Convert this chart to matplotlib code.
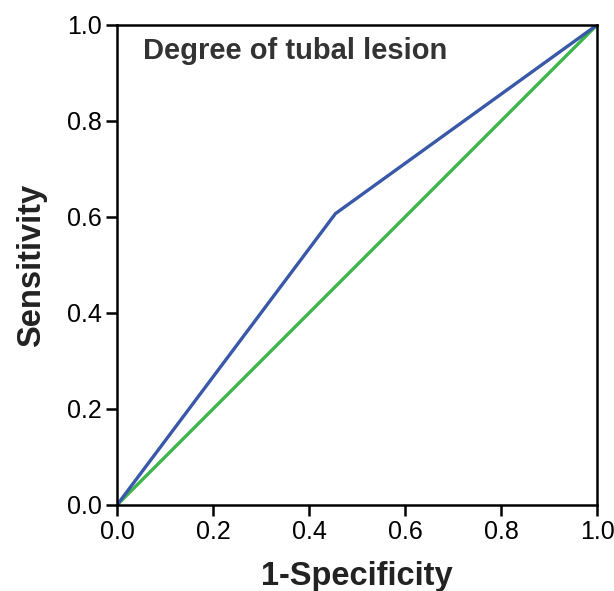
import matplotlib
matplotlib.use("Agg")
import matplotlib.pyplot as plt

fpr = [0.0, 0.455, 1.0]
tpr = [0.0, 0.607, 1.0]
ref_x = [0.0, 1.0]
ref_y = [0.0, 1.0]
ticks = [0.0, 0.2, 0.4, 0.6, 0.8, 1.0]
tick_labels = ["0.0", "0.2", "0.4", "0.6", "0.8", "1.0"]

plt.rcParams['font.family'] = ['Liberation Sans', 'DejaVu Sans']

fig = plt.figure(figsize=(6.14, 5.91), dpi=100)
ax = fig.add_axes([117/614, 86/591, 480/614, 480/591])
ax.plot(ref_x, ref_y, color="#3db54a", lw=2.4, solid_capstyle="butt")
ax.plot(fpr, tpr, color="#3a58a8", lw=2.4, solid_capstyle="butt")
ax.set_xlim(0, 1)
ax.set_ylim(0, 1)
ax.set_xticks(ticks)
ax.set_xticklabels(tick_labels)
ax.set_yticks(ticks)
ax.set_yticklabels(tick_labels)
for s in ax.spines.values():
    s.set_linewidth(1.8)
    s.set_color("black")
ax.tick_params(direction="out", length=8, width=1.8, labelsize=18, pad=3)
ax.set_xlabel("1-Specificity", fontsize=23.5, fontweight="bold", color="#222222", labelpad=12)
ax.set_ylabel("Sensitivity", fontsize=23.5, fontweight="bold", color="#222222", labelpad=14)
ax.text(0.055, 0.975, "Degree of tubal lesion", transform=ax.transAxes,
        fontsize=21, fontweight="bold", color="#333333", va="top", ha="left")
fig.savefig("out.png", dpi=100)
